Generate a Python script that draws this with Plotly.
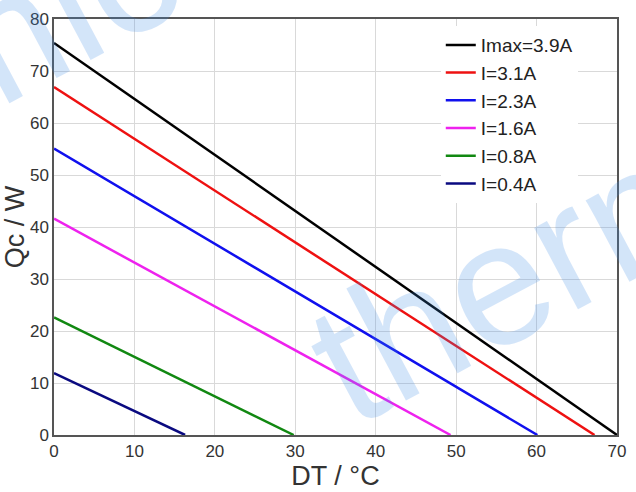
import plotly.graph_objects as go

names = ["Imax=3.9A", "I=3.1A", "I=2.3A", "I=1.6A", "I=0.8A", "I=0.4A"]
qc_at_zero = [75.4, 66.9, 55.1, 41.6, 22.6, 11.9]
dt_at_zero = [70.0, 67.2, 60.1, 49.3, 29.8, 16.3]
colors = ["#000000", "#ee1111", "#1010ee", "#ee22ee", "#118811", "#0a0a80"]

x_ticks = [0, 10, 20, 30, 40, 50, 60, 70]
y_ticks = [0, 10, 20, 30, 40, 50, 60, 70, 80]

fig = go.Figure()
for n, q, d, c in zip(names, qc_at_zero, dt_at_zero, colors):
    fig.add_trace(go.Scatter(x=[0, d], y=[q, 0], mode="lines", name=n,
                             line=dict(color=c, width=2.5)))

font_family = "Liberation Sans, Arial, sans-serif"
axis_common = dict(showgrid=True, gridcolor="#d9d9d9", gridwidth=1,
                   showline=True, linecolor="#555555", linewidth=1.5, mirror=True,
                   ticks="", zeroline=False,
                   tickfont=dict(family=font_family, size=17, color="#333333"))

fig.update_layout(
    width=636, height=492,
    margin=dict(l=54, r=10, t=16, b=57),
    paper_bgcolor="white", plot_bgcolor="white",
    font=dict(family=font_family, color="#333333"),
    xaxis=dict(range=[0, 70], tickvals=x_ticks, **axis_common,
               title=dict(text="DT / °C", font=dict(size=27, color="#333333"), standoff=2)),
    yaxis=dict(range=[0, 80], tickvals=y_ticks, **axis_common,
               title=dict(text="Qc / W", font=dict(size=27, color="#333333"), standoff=0)),
    legend=dict(x=0.687, y=0.983, xanchor="left", yanchor="top",
                bgcolor="white", borderwidth=0,
                font=dict(family=font_family, size=19, color="#222222"),
                tracegroupgap=0),
    showlegend=True,
)

# watermark
fig.add_annotation(text="thermonamic", xref="paper", yref="paper", x=1.272, y=0.712,
                   xanchor="center", yanchor="middle",
                   showarrow=False, textangle=-28, opacity=0.22,
                   font=dict(family=font_family, size=175, color="#3d8ce8"))
fig.add_annotation(text="namic", xref="paper", yref="paper", x=-0.172, y=0.895,
                   xanchor="center", yanchor="middle",
                   showarrow=False, textangle=-28, opacity=0.22,
                   font=dict(family=font_family, size=175, color="#3d8ce8"))

fig.write_html("out.html")
